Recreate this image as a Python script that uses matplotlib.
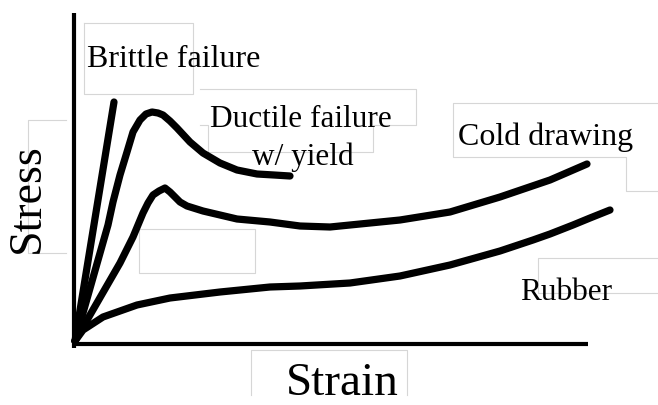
import matplotlib
matplotlib.use("Agg")
import matplotlib.pyplot as plt

# Schematic stress-strain curves (arbitrary units)
brittle_strain = [1, 40]
brittle_stress = [3, 242]

ductile_strain = [1, 34, 39, 46, 53, 59, 66, 72, 78, 84, 89, 96, 103, 116, 129,
                  146, 163, 183, 200, 216]
ductile_stress = [3, 119, 142, 169, 192, 212, 224, 230, 232, 231, 229, 223, 216, 202, 191,
                  181, 174, 170, 169, 168]

cold_strain = [1, 46, 59, 69, 74, 79, 85, 91, 96, 101, 106, 113, 129,
               146, 163, 196, 226, 256, 276, 326, 376, 426, 476, 513]
cold_stress = [3, 81, 107, 131, 141, 149, 153, 156, 152, 147, 142, 138, 133,
               129, 125, 122, 118, 117, 119, 124, 132, 147, 164, 180]

rubber_strain = [1, 9, 29, 63, 96, 146, 196, 226, 276, 326, 376, 426, 459, 476, 499, 516, 536]
rubber_stress = [3, 14, 27, 39, 46, 52, 57, 58, 61, 68, 79, 93, 104, 110, 119, 126, 134]

labels = ["Brittle failure", "Ductile failure", "w/ yield", "Cold drawing", "Rubber"]
x_label = "Strain"
y_label = "Stress"

# faint text-box outlines left over in the original drawing
box_outlines = [
    ([10, 10, 119, 119, 10], [321, 250, 250, 321, 321]),
    ([126, 342, 342, 299, 299, 134, 134, 126], [255, 255, 219, 219, 192, 192, 219, 219]),
    ([584, 379, 379, 552, 552, 584], [241, 241, 187, 187, 153, 153]),
    ([-8, -46, -46, -8], [224, 224, 91, 91]),
    ([65, 65, 181, 181, 65], [115, 71, 71, 115, 115]),
    ([177, 177, 333, 333], [-51, -6, -6, -51]),
    ([584, 464, 464, 584], [86, 86, 51, 51]),
]

plt.rcParams['font.family'] = ['Liberation Serif', 'DejaVu Serif']

fig = plt.figure(figsize=(6.58, 4.05), dpi=100)
ax = fig.add_axes([0, 0, 1, 1])
ax.set_xlim(-74, 584)
ax.set_ylim(-61, 344)
ax.axis('off')

for bx, by in box_outlines:
    ax.plot(bx, by, color='#d6d6d6', lw=0.8, zorder=1)

# axes drawn as thick lines
ax.plot([0, 0], [-4, 331], color='black', lw=3.0, solid_capstyle='butt', zorder=3)
ax.plot([-2, 514], [0, 0], color='black', lw=3.0, solid_capstyle='butt', zorder=3)

curve_kw = dict(color='black', lw=5.2, solid_capstyle='round', solid_joinstyle='round', zorder=4)
ax.plot(brittle_strain, brittle_stress, **curve_kw)
ax.plot(ductile_strain, ductile_stress, **curve_kw)
ax.plot(cold_strain, cold_stress, **curve_kw)
ax.plot(rubber_strain, rubber_stress, **curve_kw)

ax.text(13, 277, labels[0], fontsize=23, ha='left', va='baseline')
ax.text(136, 217, labels[1], fontsize=22.5, ha='left', va='baseline')
ax.text(178, 179, labels[2], fontsize=22.5, ha='left', va='baseline')
ax.text(384, 199, labels[3], fontsize=23, ha='left', va='baseline')
ax.text(446, 44, labels[4], fontsize=22.5, ha='left', va='baseline')

ax.text(-46, 146, y_label, fontsize=33, rotation=90, ha='center', va='center')
ax.text(268, -51, x_label, fontsize=34, ha='center', va='baseline')

fig.savefig('out.png', dpi=100)
